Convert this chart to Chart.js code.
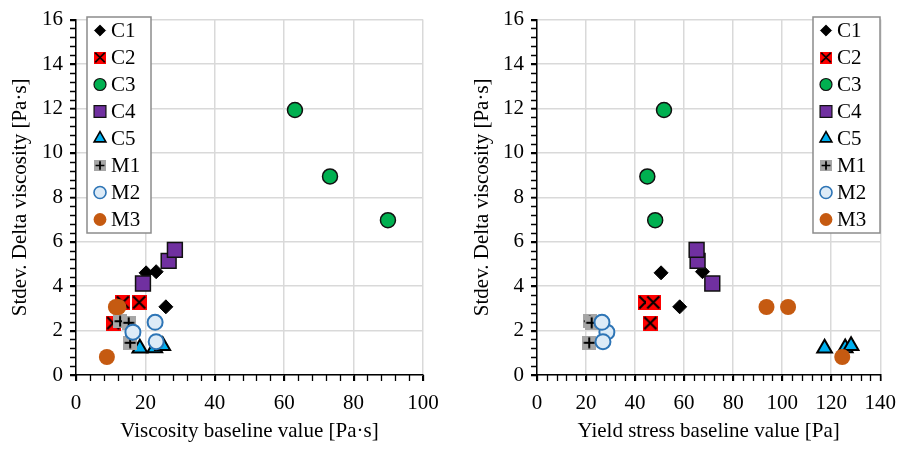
<!DOCTYPE html>
<html>
<head>
<meta charset="utf-8">
<script src="https://cdn.jsdelivr.net/npm/chart.js@4.4.0/dist/chart.umd.min.js"></script>
<style>
  html, body { margin: 0; padding: 0; background: #fff; }
  .wrap { display: flex; width: 906px; height: 453px; }
  .box { width: 453px; height: 453px; }
</style>
</head>
<body>
<div class="wrap">
  <div class="box"><canvas id="viscChart" width="453" height="453"></canvas></div>
  <div class="box"><canvas id="yieldChart" width="453" height="453"></canvas></div>
</div>
<script>
// series names
const seriesNames = ['C1', 'C2', 'C3', 'C4', 'C5', 'M1', 'M2', 'M3'];

// Stdev. Delta viscosity [Pa·s] (shared y values, same order in both panels)
const c1Stdev = [4.6, 4.65, 3.07];
const c2Stdev = [3.27, 3.27, 2.34];
const c3Stdev = [11.93, 8.94, 6.97];
const c4Stdev = [4.12, 5.14, 5.63];
const c5Stdev = [1.2, 1.22, 1.32];
const m1Stdev = [2.42, 2.35, 1.45];
const m2Stdev = [1.93, 2.37, 1.5];
const m3Stdev = [3.06, 3.06, 0.81];

// Viscosity baseline value [Pa·s]
const c1Visc = [20.2, 23.1, 25.9];
const c2Visc = [13.5, 18.2, 10.7];
const c3Visc = [63.1, 73.2, 89.9];
const c4Visc = [19.3, 26.7, 28.5];
const c5Visc = [18.4, 22.7, 25.0];
const m1Visc = [12.7, 15.2, 15.6];
const m2Visc = [16.4, 22.8, 23.1];
const m3Visc = [11.5, 12.2, 8.9];

// Yield stress baseline value [Pa]
const c1Yield = [50.6, 67.5, 58.2];
const c2Yield = [44.2, 47.4, 46.2];
const c3Yield = [51.8, 45.0, 48.2];
const c4Yield = [71.5, 65.5, 65.1];
const c5Yield = [117.3, 125.7, 128.1];
const m1Yield = [21.5, 22.3, 21.3];
const m2Yield = [28.5, 26.5, 26.9];
const m3Yield = [93.6, 102.4, 124.5];

const yTicks = { min: 0, max: 16, step: 2, minor: 0.4 };
const viscTicks = { min: 0, max: 100, step: 20, minor: 4 };
const yieldTicks = { min: 0, max: 140, step: 20, minor: 4 };

const SERIF = '"Liberation Serif", "Times New Roman", serif';

function makeMarker(size, fill, drawInner) {
  const c = document.createElement('canvas');
  c.width = size;
  c.height = size;
  const g = c.getContext('2d');
  g.fillStyle = fill;
  g.fillRect(0, 0, size, size);
  g.strokeStyle = '#000';
  g.lineWidth = 2;
  drawInner(g, size);
  return c;
}

const crossMark = makeMarker(15, '#FF0000', (g, s) => {
  g.beginPath();
  g.moveTo(1.5, 1.5); g.lineTo(s - 1.5, s - 1.5);
  g.moveTo(s - 1.5, 1.5); g.lineTo(1.5, s - 1.5);
  g.stroke();
});

const plusMark = makeMarker(14, '#A6A6A6', (g, s) => {
  g.beginPath();
  g.moveTo(s / 2, 1.5); g.lineTo(s / 2, s - 1.5);
  g.moveTo(1.5, s / 2); g.lineTo(s - 1.5, s / 2);
  g.stroke();
});

const seriesStyles = [
  { pointStyle: 'rectRot', radius: 7, bg: '#000', border: '#000', bw: 1 },
  { pointStyle: crossMark, radius: 7, bg: '#FF0000', border: '#000', bw: 0 },
  { pointStyle: 'circle', radius: 7.5, bg: '#00B050', border: '#111', bw: 1.5 },
  { pointStyle: 'rect', radius: 10.5, bg: '#7030A0', border: '#111', bw: 1.5 },
  { pointStyle: 'triangle', radius: 8.5, bg: '#00B0F0', border: '#000', bw: 2 },
  { pointStyle: plusMark, radius: 7, bg: '#A6A6A6', border: '#000', bw: 0 },
  { pointStyle: 'circle', radius: 7.5, bg: '#DDEBF7', border: '#2E75B6', bw: 2 },
  { pointStyle: 'circle', radius: 8, bg: '#C55A11', border: '#C55A11', bw: 0 },
];

function toPoints(xs, ys) {
  return xs.map((x, i) => ({ x, y: ys[i] }));
}

function buildDatasets(xLists) {
  const yLists = [c1Stdev, c2Stdev, c3Stdev, c4Stdev, c5Stdev, m1Stdev, m2Stdev, m3Stdev];
  return seriesNames.map((name, i) => {
    const st = seriesStyles[i];
    return {
      label: name,
      data: toPoints(xLists[i], yLists[i]),
      pointStyle: st.pointStyle,
      pointRadius: st.radius,
      pointHoverRadius: st.radius,
      backgroundColor: st.bg,
      borderColor: st.border,
      borderWidth: st.bw,
      pointBorderWidth: st.bw,
      order: seriesNames.length - i,
    };
  });
}

// Excel-style minor tick marks on both axes
const minorTicks = {
  id: 'minorTicks',
  afterDraw(chart, args, opts) {
    const { ctx, scales: { x, y } } = chart;
    ctx.save();
    ctx.strokeStyle = '#000';
    ctx.lineWidth = 1.3;
    ctx.beginPath();
    for (let v = x.min; v <= x.max + 1e-6; v += opts.xStep) {
      const px = Math.round(x.getPixelForValue(v)) + 0.5;
      ctx.moveTo(px, y.bottom);
      ctx.lineTo(px, y.bottom + 6);
    }
    for (let v = y.min; v <= y.max + 1e-6; v += opts.yStep) {
      const py = Math.round(y.getPixelForValue(v)) + 0.5;
      ctx.moveTo(x.left - 6, py);
      ctx.lineTo(x.left, py);
    }
    ctx.stroke();
    ctx.restore();
  },
};

// boxed legend inside the plot area
const legendBox = {
  id: 'legendBox',
  afterDraw(chart, args, opts) {
    const ctx = chart.ctx;
    const { left, top, width, rowH } = opts;
    const datasets = chart.data.datasets;
    const height = datasets.length * rowH;
    ctx.save();
    ctx.fillStyle = '#fff';
    ctx.fillRect(left, top, width, height);
    ctx.strokeStyle = '#8c8c8c';
    ctx.lineWidth = 1.5;
    ctx.strokeRect(left, top, width, height);
    datasets.forEach((ds, i) => {
      const cy = top + rowH * (i + 0.5);
      const cx = left + 13;
      ctx.save();
      ctx.translate(cx, cy);
      ctx.scale(0.8, 0.8);
      ctx.fillStyle = ds.backgroundColor;
      ctx.strokeStyle = ds.borderColor;
      ctx.lineWidth = ds.borderWidth;
      Chart.helpers.drawPoint(ctx, {
        pointStyle: ds.pointStyle,
        radius: ds.pointRadius,
        rotation: 0,
        borderWidth: ds.borderWidth,
      }, 0, 0);
      ctx.restore();
      ctx.fillStyle = '#000';
      ctx.font = '21px ' + SERIF;
      ctx.textBaseline = 'middle';
      ctx.textAlign = 'left';
      ctx.fillText(ds.label, left + 24, cy + 1);
    });
    ctx.restore();
  },
};

function drawPanel(canvas, xLists, xRange, xTitle, layout) {
  new Chart(canvas, {
    type: 'scatter',
    data: { datasets: buildDatasets(xLists) },
    plugins: [minorTicks, legendBox],
    options: {
      responsive: false,
      animation: false,
      events: [],
      layout: { padding: { top: 19, right: layout.right, left: 0, bottom: 0 } },
      plugins: {
        legend: { display: false },
        tooltip: { enabled: false },
        minorTicks: { xStep: xRange.minor, yStep: yTicks.minor },
        legendBox: layout.legend,
      },
      scales: {
        x: {
          type: 'linear',
          min: xRange.min,
          max: xRange.max,
          afterFit: s => { s.height = 78; },
          ticks: {
            stepSize: xRange.step,
            color: '#000',
            padding: 10,
            maxRotation: 0,
            font: { family: SERIF, size: 21 },
          },
          grid: { color: '#D9D9D9', lineWidth: 1.5, tickLength: 6, tickColor: '#000' },
          border: { color: '#000', width: 1.5 },
          title: {
            display: true,
            text: xTitle,
            color: '#000',
            font: { family: SERIF, size: 21 },
            padding: { top: 0, bottom: 9 },
          },
        },
        y: {
          type: 'linear',
          min: yTicks.min,
          max: yTicks.max,
          afterFit: s => { s.width = layout.yWidth; },
          ticks: {
            stepSize: yTicks.step,
            color: '#000',
            padding: 7,
            font: { family: SERIF, size: 21 },
          },
          grid: { color: '#D9D9D9', lineWidth: 1.5, tickLength: 6, tickColor: '#000' },
          border: { color: '#000', width: 1.5 },
          title: {
            display: true,
            text: 'Stdev. Delta viscosity [Pa·s]',
            color: '#000',
            font: { family: SERIF, size: 21 },
            padding: { top: layout.yTitlePad, bottom: 0 },
          },
        },
      },
    },
  });
}

window.addEventListener('DOMContentLoaded', () => {
  drawPanel(
    document.getElementById('viscChart'),
    [c1Visc, c2Visc, c3Visc, c4Visc, c5Visc, m1Visc, m2Visc, m3Visc],
    viscTicks,
    'Viscosity baseline value [Pa·s]',
    { right: 30, yWidth: 76, yTitlePad: 8, legend: { left: 87, top: 17, width: 64, rowH: 27 } }
  );
  drawPanel(
    document.getElementById('yieldChart'),
    [c1Yield, c2Yield, c3Yield, c4Yield, c5Yield, m1Yield, m2Yield, m3Yield],
    yieldTicks,
    'Yield stress baseline value [Pa]',
    { right: 20, yWidth: 84, yTitlePad: 17, legend: { left: 360, top: 17, width: 67, rowH: 27 } }
  );
});
</script>
</body>
</html>
